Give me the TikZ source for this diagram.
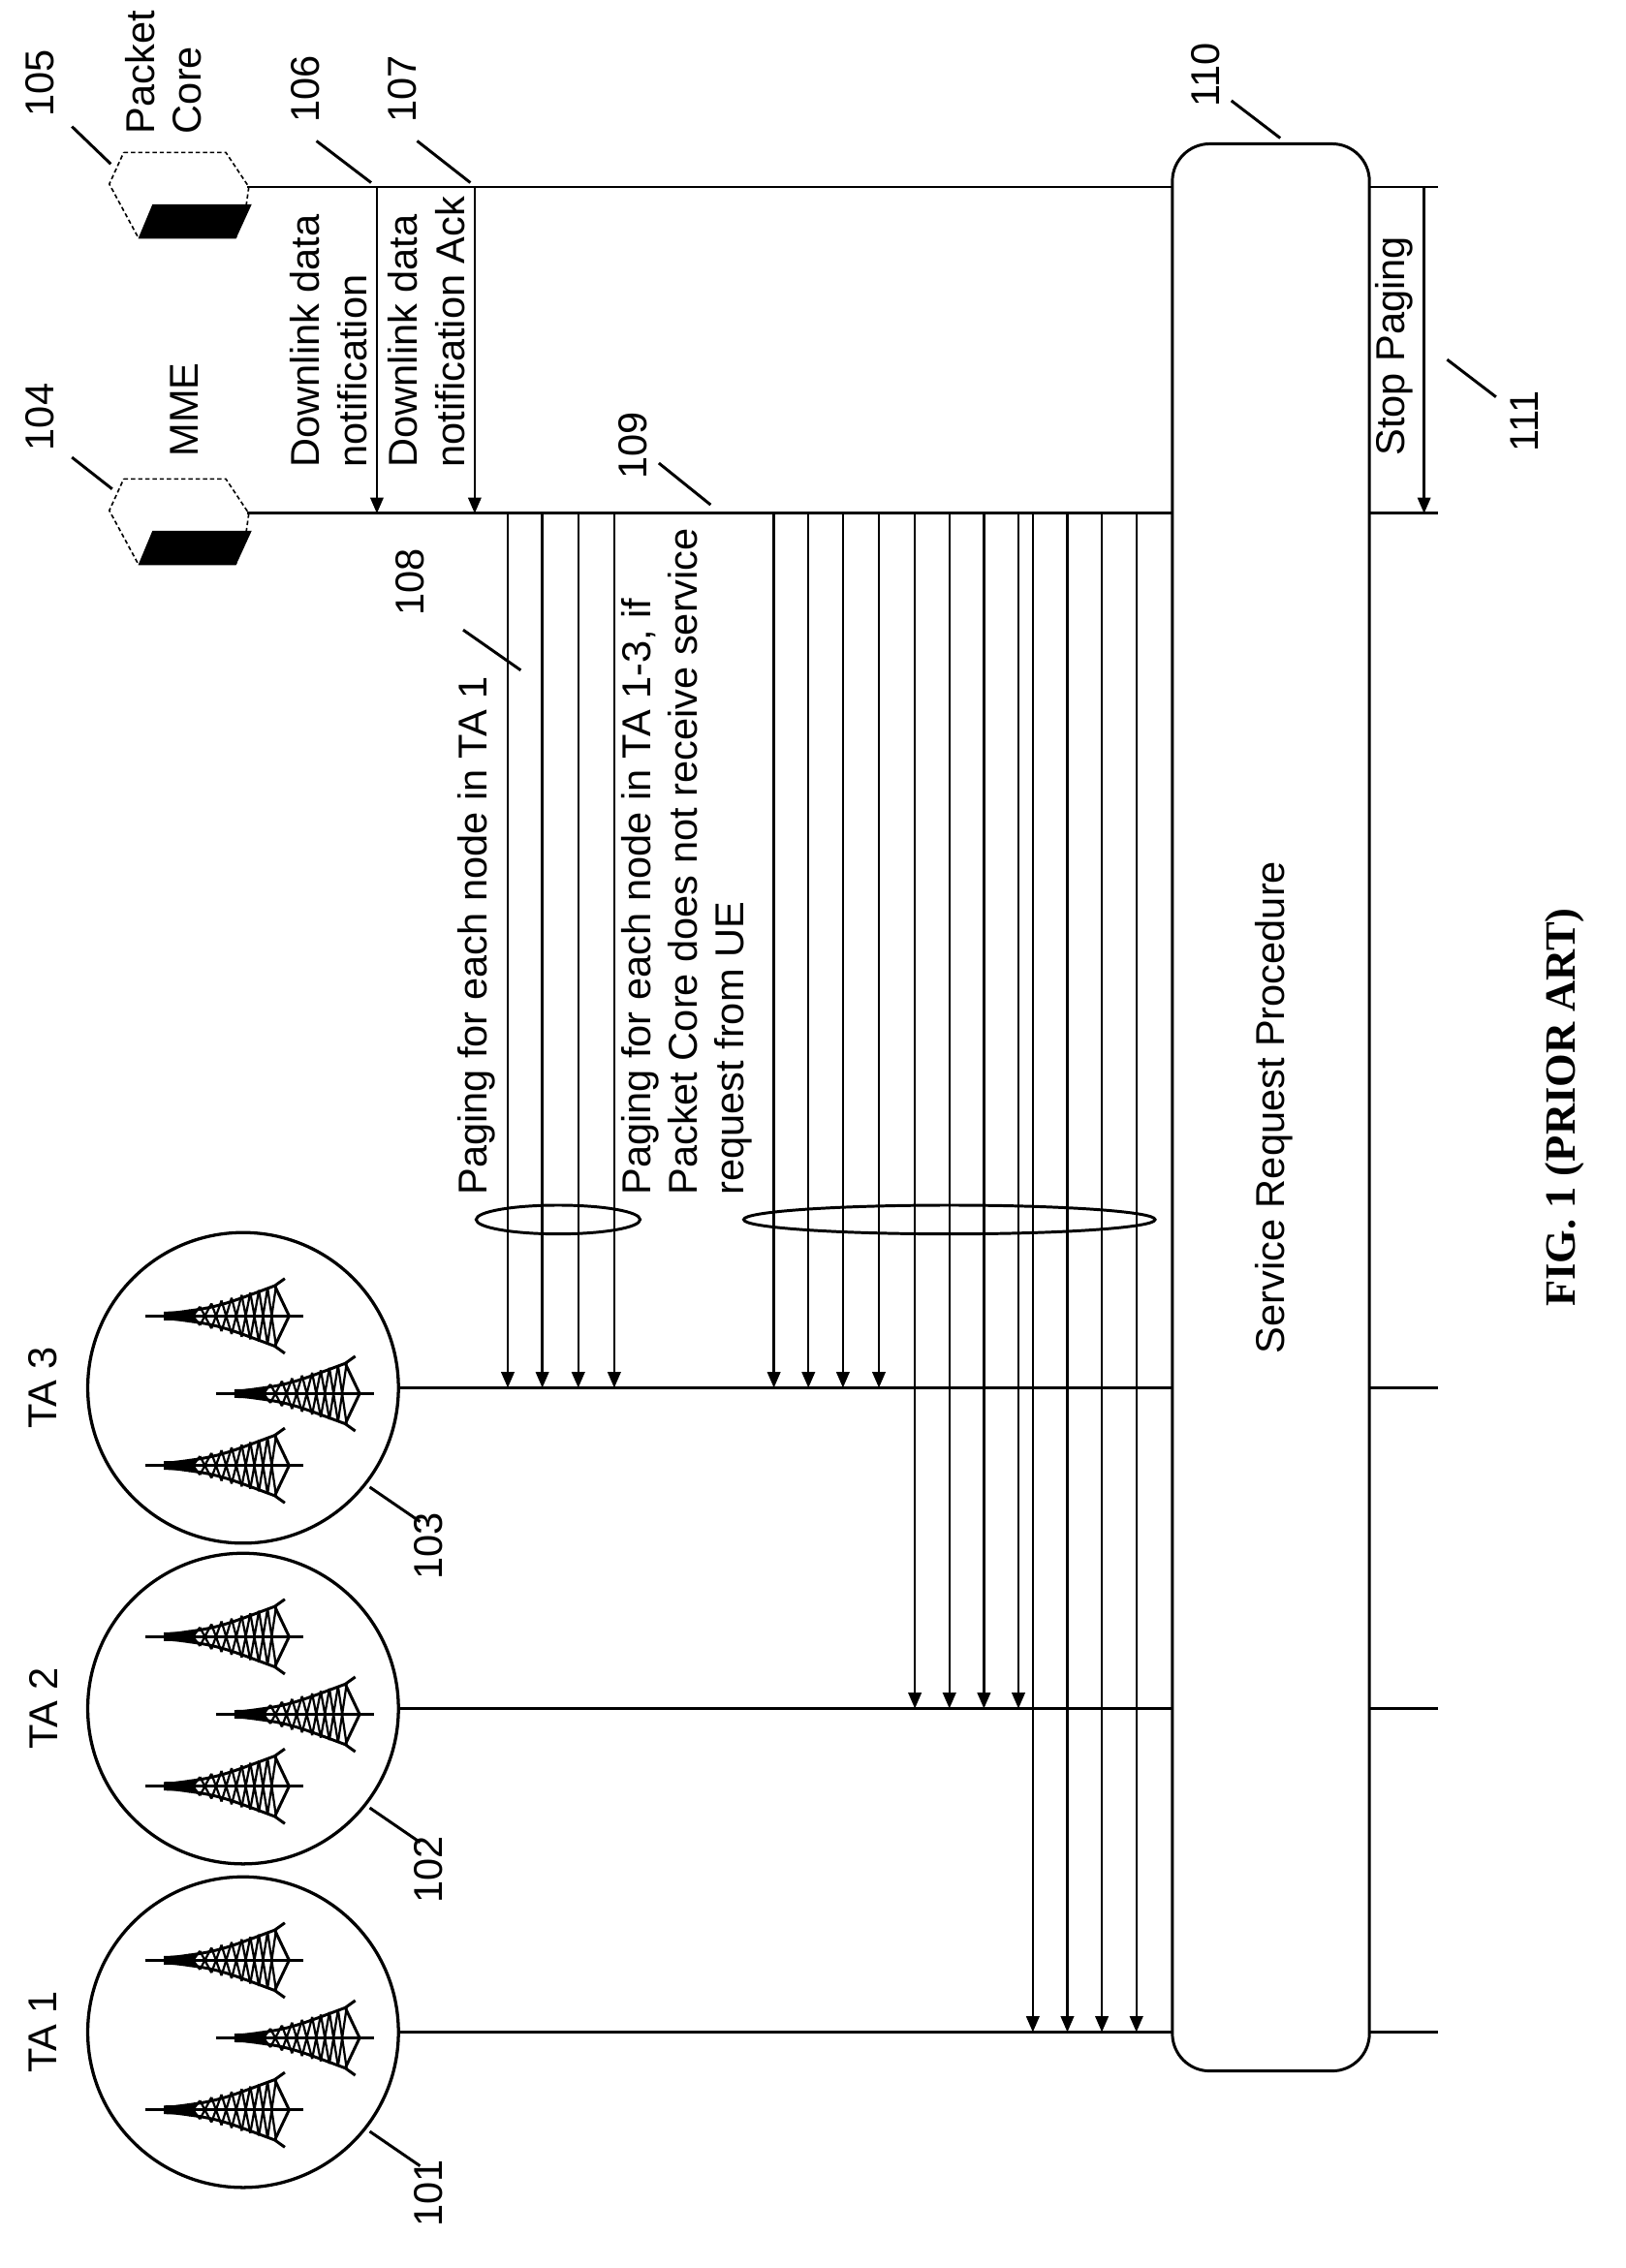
\documentclass[tikz,border=0pt]{standalone}
\usepackage{fontspec}
\setmainfont{Liberation Sans}
\newfontfamily\figfont{Liberation Serif}
\usetikzlibrary{arrows.meta}
\begin{document}
\begin{tikzpicture}[x=1pt,y=-1pt,line width=2pt,
  txt/.style={font=\fontsize{28}{32.5}\selectfont,inner sep=0pt,align=left},
  num/.style={font=\fontsize{28}{30}\selectfont,inner sep=0pt,rotate=90},
  lead/.style={line width=2pt},
  arr/.style={-{Triangle[length=11pt,width=9pt]},line width=1.6pt},
  tower/.pic={
    \draw[line width=2.2pt] (0,0)--(110,0);
    \fill (13,-3)--(35,-3.5)--(35,3.5)--(13,3)--cycle;
    \draw[line width=2pt] (15,-1.5) .. controls (50,-6) .. (90,-21) -- (97,-26);
    \draw[line width=2pt] (15,1.5) .. controls (50,6) .. (90,21) -- (97,26);
    \draw[line width=2pt] (90,-21)--(100,0)--(90,21);
    \foreach \a/\b in {30/38,38/46,46/53,53/60,60/67,67/73,73/79,79/85,85/91}{
      \pgfmathsetmacro\ha{21*(\a-15)/75}
      \pgfmathsetmacro\hb{21*(\b-15)/75}
      \draw[line width=1.5pt] (\a,-\ha)--(\b,\hb) (\a,\ha)--(\b,-\hb);
    }
  },
  server/.pic={
    \draw[densely dashed,line width=1.1pt] (10,-22)--(81,-22)--(97,2)--(95,16)--(88,37)--(20,37)--(0,0)--cycle;
    \fill (30,14)--(99,14)--(88,38)--(20,38)--cycle;
  }]
\useasboundingbox (0,0) rectangle (1130,1577);
% lifelines
\coordinate (pcL) at (172,130); \coordinate (pcR) at (1000,130);
\coordinate (mmeL) at (172,357); \coordinate (mmeR) at (1000,357);
\coordinate (ta3L) at (277,965); \coordinate (ta3R) at (1000,965);
\coordinate (ta2L) at (277,1188); \coordinate (ta2R) at (1000,1188);
\coordinate (ta1L) at (277,1413); \coordinate (ta1R) at (1000,1413);
\draw (pcL)--(pcR); \draw (mmeL)--(mmeR);
\draw (ta3L)--(ta3R); \draw (ta2L)--(ta2R); \draw (ta1L)--(ta1R);
% icons
\pic at (76,128) {server};
\pic at (76,355) {server};
% TA circles
\foreach \n/\cy in {3/965,2/1188,1/1413}{
  \node[draw,circle,minimum size=216pt,line width=2.2pt,inner sep=0pt] (ta\n) at (169,\cy) {};
  \pic at (101,\cy-50) {tower};
  \pic at (150,\cy+4) {tower};
  \pic at (101,\cy+54) {tower};
  \node[num] (lta\n) at (30,\cy) {TA \n};
}
% downlink arrows
\draw[arr] (262,130) coordinate (a106s) -- (262,357) coordinate (a106e);
\draw[arr] (330,130) coordinate (a107s) -- (330,357) coordinate (a107e);
\draw[arr] (990,130) coordinate (a111s) -- (990,357) coordinate (a111e);
% paging arrows
\foreach \x in {353,377,402,427,538,562,586,611}{\draw[arr] (\x,357) -- (\x,965);}
\foreach \x in {636,660,684,708}{\draw[arr] (\x,357) -- (\x,1188);}
\foreach \x in {718,742,766,790}{\draw[arr] (\x,357) -- (\x,1413);}
\draw (388,848) ellipse [x radius=57, y radius=10];
\draw (660,848) ellipse [x radius=143, y radius=10];
% service request box
\draw[fill=white,rounded corners=26pt] (815,100) rectangle (952,1440);
\node[txt,rotate=90] (srp) at (886,770) {Service Request Procedure};
% labels
\node[txt,rotate=90,anchor=south west] (l106) at (256,326) {Downlink data\\notification};
\node[txt,rotate=90,anchor=south west] (l107) at (324,326) {Downlink data\\notification Ack};
\node[txt,rotate=90,anchor=south west] (l111) at (983,318) {Stop Paging};
\node[txt,rotate=90,anchor=south west] (l108) at (345,832) {Paging for each node in TA 1};
\node[txt,rotate=90,anchor=south west] (l109) at (524,832) {Paging for each node in TA 1-3, if\\Packet Core does not receive service\\request from UE};
\node[txt,rotate=90,anchor=south west] (lpc) at (141,94) {Packet\\Core};
\node[txt,rotate=90] (lmme) at (128,285) {MME};
% numbers and leaders
\node[num] (n105) at (28,58) {105}; \draw[lead] (50,88)--(77,114);
\node[num] (n104) at (28,290) {104}; \draw[lead] (50,318)--(78,340);
\node[num] (n106) at (212,62) {106}; \draw[lead] (220,98)--(258,127);
\node[num] (n107) at (280,62) {107}; \draw[lead] (290,98)--(327,127);
\node[num] (n110) at (838,52) {110}; \draw[lead] (856,70)--(890,96);
\node[num] (n108) at (285,405) {108}; \draw[lead] (322,438)--(362,466);
\node[num] (n109) at (440,310) {109}; \draw[lead] (458,322)--(494,351);
\node[num] (n111) at (1060,293) {111}; \draw[lead] (1006,250)--(1040,276);
\node[num] (n103) at (298,1075) {103}; \draw[lead] (257,1034)--(292,1058);
\node[num] (n102) at (298,1300) {102}; \draw[lead] (257,1257)--(292,1281);
\node[num] (n101) at (298,1525) {101}; \draw[lead] (257,1482)--(292,1506);
\node[inner sep=0pt,rotate=90,font=\figfont\bfseries\fontsize{30}{34}\selectfont] (fig) at (1088,770) {FIG. 1 (PRIOR ART)};
\end{tikzpicture}
\end{document}
